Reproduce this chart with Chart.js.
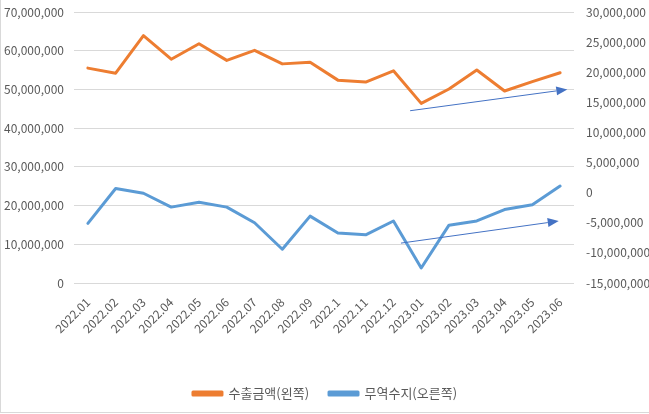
<!DOCTYPE html>
<html>
<head>
<meta charset="utf-8">
<script src="https://cdn.jsdelivr.net/npm/chart.js@4/dist/chart.umd.min.js"></script>
<style>
  html, body { margin: 0; padding: 0; background: #fff; }
  #wrap { position: relative; width: 648px; height: 412px; border-left: 1px solid #d9d9d9; border-bottom: 1px solid #d9d9d9; }
</style>
</head>
<body>
<div id="wrap"><canvas id="chart"></canvas></div>
<script>
const months = ['2022.01', '2022.02', '2022.03', '2022.04', '2022.05', '2022.06', '2022.07', '2022.08', '2022.09',
  '2022.1', '2022.11', '2022.12', '2023.01', '2023.02', '2023.03', '2023.04', '2023.05', '2023.06'];
const exportAmount = [55500000, 54200000, 63900000, 57800000, 61800000, 57500000, 60100000, 56600000, 57000000,
  52400000, 51900000, 54800000, 46400000, 50100000, 55000000, 49600000, 52000000, 54300000];
const tradeBalance = [-5100000, 700000, -100000, -2400000, -1600000, -2400000, -5000000, -9400000, -3900000,
  -6700000, -7000000, -4700000, -12500000, -5400000, -4700000, -2800000, -2000000, 1100000];
const seriesNames = ['수출금액(왼쪽)', '무역수지(오른쪽)'];
// trend arrows: [category index, left-axis value]
const exportTrendArrow = [[11.6, 44500000], [17.26, 50000000]];
const balanceTrendArrow = [[11.27, 10300000], [16.95, 16000000]];

const tickColor = '#595959';
const font = { family: "'Noto Sans CJK KR', 'Noto Sans', sans-serif", size: 12 };

const arrowPlugin = {
  id: 'arrows',
  afterDatasetsDraw(chart) {
    const ctx = chart.ctx;
    const xs = chart.scales.x, ys = chart.scales.y;
    [exportTrendArrow, balanceTrendArrow].forEach(([from, to]) => {
      const x1 = xs.getPixelForValue(from[0]), y1 = ys.getPixelForValue(from[1]);
      const x2 = xs.getPixelForValue(to[0]), y2 = ys.getPixelForValue(to[1]);
      const ang = Math.atan2(y2 - y1, x2 - x1);
      const len = 11, half = 4.5;
      ctx.save();
      ctx.strokeStyle = '#4472c4';
      ctx.fillStyle = '#4472c4';
      ctx.lineWidth = 1;
      ctx.beginPath();
      ctx.moveTo(x1, y1);
      ctx.lineTo(x2 - Math.cos(ang) * len, y2 - Math.sin(ang) * len);
      ctx.stroke();
      ctx.beginPath();
      ctx.moveTo(x2, y2);
      ctx.lineTo(x2 - Math.cos(ang) * len - Math.sin(ang) * half, y2 - Math.sin(ang) * len + Math.cos(ang) * half);
      ctx.lineTo(x2 - Math.cos(ang) * len + Math.sin(ang) * half, y2 - Math.sin(ang) * len - Math.cos(ang) * half);
      ctx.closePath();
      ctx.fill();
      ctx.restore();
    });
  }
};

new Chart(document.getElementById('chart'), {
  type: 'line',
  data: {
    labels: months,
    datasets: [{
      label: seriesNames[0],
      data: exportAmount,
      yAxisID: 'y',
      borderColor: '#ed7d31',
      backgroundColor: '#ed7d31',
      borderWidth: 3,
      pointRadius: 0,
      tension: 0,
      borderJoinStyle: 'round',
      borderCapStyle: 'round'
    }, {
      label: seriesNames[1],
      data: tradeBalance,
      yAxisID: 'y1',
      borderColor: '#5b9bd5',
      backgroundColor: '#5b9bd5',
      borderWidth: 3,
      pointRadius: 0,
      tension: 0,
      borderJoinStyle: 'round',
      borderCapStyle: 'round'
    }]
  },
  options: {
    responsive: true,
    maintainAspectRatio: false,
    animation: false,
    layout: { padding: { top: 12, bottom: 2 } },
    plugins: {
      tooltip: { enabled: false },
      legend: {
        position: 'bottom',
        labels: { font: { family: font.family, size: 13 }, color: tickColor, boxWidth: 29, boxHeight: 3, padding: 20 }
      }
    },
    scales: {
      x: {
        offset: true,
        grid: { display: false },
        border: { display: false },
        ticks: { font: font, color: tickColor, minRotation: 45, maxRotation: 45, autoSkip: false, padding: 4 },
        afterFit(scale) { scale.height = 84; }
      },
      y: {
        position: 'left',
        min: 0, max: 70000000,
        grid: { color: '#d9d9d9', drawTicks: true, tickLength: 10, tickColor: 'rgba(0,0,0,0)' },
        border: { display: false },
        ticks: { stepSize: 10000000, font: font, color: tickColor, padding: 0,
          callback: v => v.toLocaleString('en-US') },
        afterFit(scale) { scale.width = 73; }
      },
      y1: {
        position: 'right',
        min: -15000000, max: 30000000,
        grid: { color: 'rgba(0,0,0,0)', drawOnChartArea: false, drawTicks: true, tickLength: 12, tickColor: 'rgba(0,0,0,0)' },
        border: { display: false },
        ticks: { stepSize: 5000000, font: font, color: tickColor, padding: 0,
          callback: v => v.toLocaleString('en-US') },
        afterFit(scale) { scale.width = 75; }
      }
    }
  },
  plugins: [arrowPlugin]
});
</script>
</body>
</html>
